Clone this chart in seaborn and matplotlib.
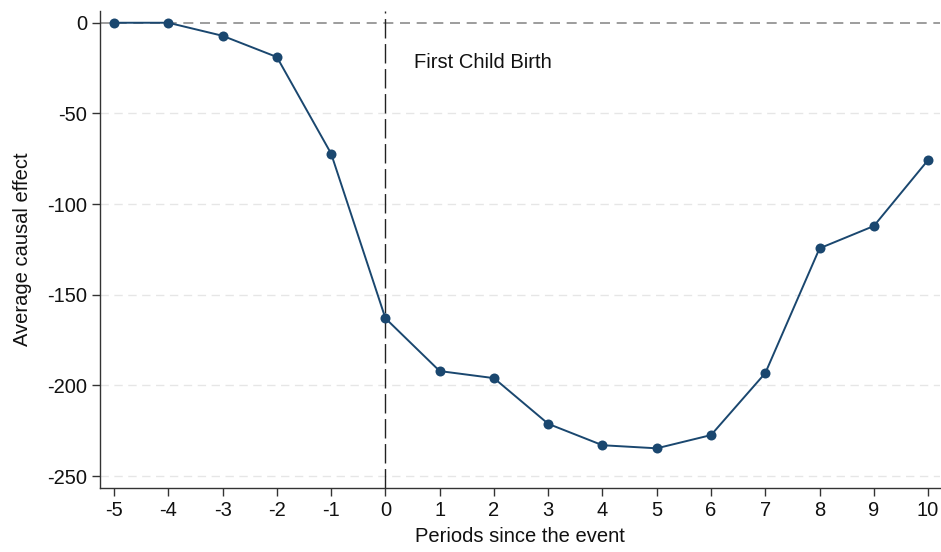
import matplotlib
matplotlib.use("Agg")
import matplotlib.pyplot as plt
import seaborn as sns
import pandas as pd

periods = [-5, -4, -3, -2, -1, 0, 1, 2, 3, 4, 5, 6, 7, 8, 9, 10]
effects = [0, 0, -7.2, -18.9, -72.2, -163, -192.1, -196, -221.2, -233, -234.7, -227.4, -193.2, -124.4, -112.1, -75.7]
y_ticks = [0, -50, -100, -150, -200, -250]
x_label = "Periods since the event"
y_label = "Average causal effect"
annotation = "First Child Birth"

df = pd.DataFrame({"period": periods, "effect": effects})

sns.set_theme(style="white")
plt.rcParams["font.family"] = ["Liberation Sans", "DejaVu Sans"]

fig = plt.figure(figsize=(9.41, 5.52), dpi=100)
ax = fig.add_axes([0.1068, 0.1159, 0.8922, 0.8649])

navy = "#1a476f"
for yt in y_ticks[1:]:
    ax.axhline(yt, color="#e6e6e6", lw=1.0, ls=(0, (6, 4)), zorder=0)
ax.axhline(0, color="#8c8c8c", lw=1.2, ls=(0, (6, 4)), zorder=1)
ax.axvline(0, color="#222222", lw=1.0, ls=(0, (14, 4)), zorder=1)

sns.lineplot(data=df, x="period", y="effect", ax=ax, color=navy, lw=1.4,
             marker="o", markersize=7.2, markeredgewidth=0, zorder=3)

ax.text(0.53, -21.7, annotation, fontsize=14.5, va="center", ha="left", color="#111111")

ax.set_xlim(-5.25, 10.22)
ax.set_ylim(-256.6, 6.7)
ax.set_xticks(periods)
ax.set_xticklabels([str(p) for p in periods])
ax.set_yticks(y_ticks)
ax.set_yticklabels([str(t) for t in y_ticks])
ax.set_xlabel(x_label, fontsize=14.5, color="#111111", labelpad=5)
ax.set_ylabel(y_label, fontsize=14.5, color="#111111", labelpad=11)

for s in ["top", "right"]:
    ax.spines[s].set_visible(False)
for s in ["left", "bottom"]:
    ax.spines[s].set_color("#333333")
    ax.spines[s].set_linewidth(1.0)
ax.tick_params(axis="both", which="major", direction="out", length=5.5, width=1.0,
               color="#333333", labelsize=14.5, labelcolor="#111111",
               left=True, bottom=True, pad=4)
ax.grid(False)

fig.savefig("out.png", dpi=100, facecolor="white")
